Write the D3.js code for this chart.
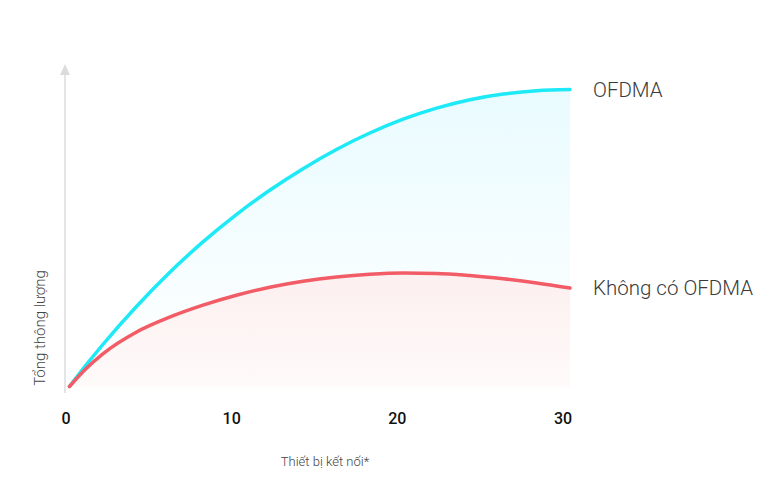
<!DOCTYPE html>
<html><head><meta charset="utf-8">
<script src="https://cdn.jsdelivr.net/npm/d3@7"></script>
<style>html,body{margin:0;padding:0;background:#fff;}svg{display:block;}</style>
</head><body><svg id="c" width="782" height="478"></svg>
<script>
const xValues = [0,1,2,4,6,8,10,12,14,16,18,20,22,24,26,28,30];
const ofdma   = [0,7.2,14.0,26.6,38.0,48.2,57.3,65.4,72.6,79.0,84.5,89.1,92.8,95.6,97.5,98.6,99.0];
const noOfdma = [0,6.0,10.9,18.1,23.1,27.1,30.4,33.1,35.1,36.5,37.4,37.8,37.7,37.0,35.9,34.5,32.8];
const tickLabels = ["0","10","20","30"];
const seriesNames = ["OFDMA","Không có OFDMA"];
const xTitle = "Thiết bị kết nối*";
const yTitle = "Tổng thông lượng";

const svg = d3.select("#c");
const x = d3.scaleLinear().domain([0,30]).range([69.5,570]);
const y = d3.scaleLinear().domain([0,100]).range([386.5,86.5]);
const tickX = d3.scalePoint().domain(tickLabels).range([66,563]);

const defs = svg.append("defs");
const g1 = defs.append("linearGradient").attr("id","gc").attr("x1",0).attr("y1",0).attr("x2",0).attr("y2",1);
g1.append("stop").attr("offset","0%").attr("stop-color","#e9fbff");
g1.append("stop").attr("offset","100%").attr("stop-color","#ffffff");
const g2 = defs.append("linearGradient").attr("id","gr").attr("x1",0).attr("y1",0).attr("x2",0).attr("y2",1);
g2.append("stop").attr("offset","0%").attr("stop-color","#fcefef");
g2.append("stop").attr("offset","100%").attr("stop-color","#fffafa");

const d1 = xValues.map((v,i)=>({x:v,y:ofdma[i]}));
const d2 = xValues.map((v,i)=>({x:v,y:noOfdma[i]}));
const area = d3.area().x(d=>x(d.x)).y0(y(0)).y1(d=>y(d.y)).curve(d3.curveMonotoneX);
const line = d3.line().x(d=>x(d.x)).y(d=>y(d.y)).curve(d3.curveMonotoneX);

svg.append("path").datum(d1).attr("d",area).attr("fill","url(#gc)");
svg.append("path").datum(d2).attr("d",area).attr("fill","url(#gr)");

// y axis line + arrow
svg.append("line").attr("x1",65).attr("x2",65).attr("y1",74).attr("y2",393).attr("stroke","#dcdcdc").attr("stroke-width",1.5);
svg.append("path").attr("d","M65,64 L60,75 L70,75 Z").attr("fill","#dcdcdc");

svg.append("path").datum(d1).attr("d",line).attr("fill","none").attr("stroke","#1de9f7").attr("stroke-width",3.5).attr("stroke-linecap","round");
svg.append("path").datum(d2).attr("d",line).attr("fill","none").attr("stroke","#f25c66").attr("stroke-width",3.5).attr("stroke-linecap","round");

svg.selectAll("text.tick").data(tickLabels).enter().append("text")
  .attr("x",d=>tickX(d)).attr("y",424).attr("text-anchor","middle")
  .attr("font-family","Roboto, sans-serif").attr("font-weight",500).attr("font-size",16).attr("fill","#111")
  .text(d=>d);

svg.append("text").attr("x",325).attr("y",466).attr("text-anchor","middle")
  .attr("font-family","Roboto, sans-serif").attr("font-weight",300).attr("font-size",13).attr("fill","#444").text(xTitle);

svg.append("text").attr("transform","translate(45,328) rotate(-90)").attr("text-anchor","middle")
  .attr("font-family","Roboto, sans-serif").attr("font-weight",300).attr("font-size",15).attr("fill","#444").text(yTitle);

const ends = [ofdma[ofdma.length-1], noOfdma[noOfdma.length-1]];
svg.selectAll("text.lbl").data(seriesNames).enter().append("text")
  .attr("x",593).attr("y",(d,i)=>y(ends[i])+7)
  .attr("font-family","Roboto, sans-serif").attr("font-weight",300).attr("font-size",20.5).attr("fill","#3a3a3a")
  .text(d=>d);
</script></body></html>
